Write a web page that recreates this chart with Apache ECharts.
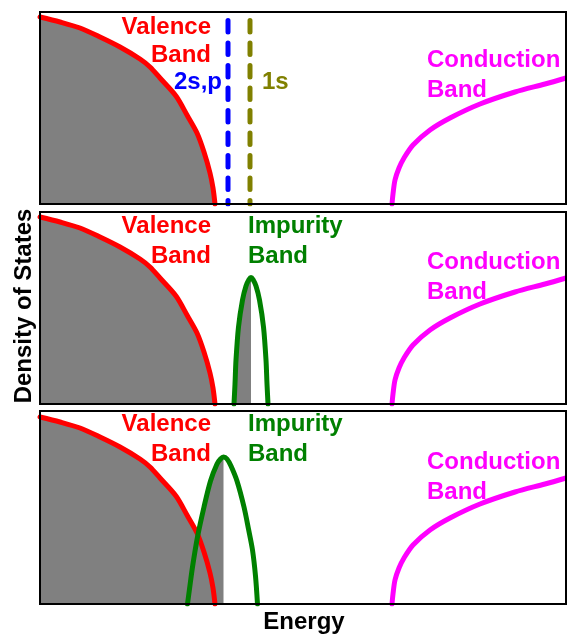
<!DOCTYPE html>
<html>
<head>
<meta charset="utf-8">
<script src="https://cdn.jsdelivr.net/npm/echarts@6/dist/echarts.min.js"></script>
<style>
html,body{margin:0;padding:0;background:#fff;}
#c{width:567px;height:635px;}
</style>
</head>
<body>
<div id="c"></div>
<script>
// ---- data (energy in arbitrary units, density of states in arbitrary units) ----
const valenceBand = [[0,187],[20,182],[40,176],[60,167],[80,157],[100,145],[110,137],[120,126],[136,108],[147,89],[157,71],[164,52],[170,31],[173,16],[175,0]];
const conductionBand = [[352,0],[353,10],[355,24],[359,36],[364,46],[373,59],[390,74],[410,86],[440,100],[475,112],[505,120],[526,126]];
const level2sp = [[188,183.5],[188,0]];
const level1s = [[210,183.5],[210,0]];
const impurityBandNarrow = [[194,0],[195,20],[196,44],[198.5,77],[202.5,104],[206,118],[209,124.5],[211,126.5],[213,124.5],[216,118],[219.5,104],[223.5,77],[226,44],[227,20],[228,0]];
const impurityBandWide = [[147.5,0],[149.5,15],[152.5,37],[157.5,67],[164,97],[170.5,123],[177,140],[180.5,145],[183.5,147],[187,145],[191,138],[197,123],[204,97],[208.5,75],[212.5,54],[215.5,28],[217.5,0]];

const labelsValence = ['Valence', 'Band'];
const labelsImpurity = ['Impurity', 'Band'];
const labelsConduction = ['Conduction', 'Band'];
const labels1 = ['2s,p', '1s'];
const xTitle = 'Energy';
const yTitle = 'Density of States';

// ---- layout ----
const panels = [
  {left:40, top:12, width:526, height:192},
  {left:40, top:212, width:526, height:192},
  {left:40, top:411, width:526, height:193}
];
const FONT = "bold 24px 'Liberation Sans', Arial, sans-serif";
const RED = '#ff0000', GREEN = '#008000', BLUE = '#0000ff', OLIVE = '#808000', MAG = '#ff00ff', GRAY = '#808080';

function leftHalf(d){
  let iMax = 0;
  d.forEach((p,i)=>{ if(p[1] > d[iMax][1]) iMax = i; });
  return d.slice(0, iMax+1);
}

const grids = panels.map(p => ({left:p.left, top:p.top, width:p.width, height:p.height, show:false, containLabel:false}));
const xAxes = panels.map((p,i) => ({type:'value', gridIndex:i, min:0, max:p.width, show:false}));
const yAxes = panels.map((p,i) => ({type:'value', gridIndex:i, min:0, max:p.height, show:false}));

function areaSeries(i, data, z){
  return {type:'line', xAxisIndex:i, yAxisIndex:i, data, smooth:0.3, symbol:'none', z,
    lineStyle:{width:0, opacity:0}, areaStyle:{color:GRAY, opacity:1}, silent:true};
}
function lineSeries(i, data, color, z, extra){
  return Object.assign({type:'line', xAxisIndex:i, yAxisIndex:i, data, smooth:0.3, symbol:'none', z,
    lineStyle:{width:5, color, cap:'round'}, silent:true}, extra||{});
}

const series = [];
// panel 1
series.push(areaSeries(0, valenceBand, 1));
series.push(lineSeries(0, valenceBand, RED, 3));
series.push(lineSeries(0, level2sp, BLUE, 3, {smooth:false, lineStyle:{width:5, color:BLUE, type:[11.5,11], cap:'round'}}));
series.push(lineSeries(0, level1s, OLIVE, 3, {smooth:false, lineStyle:{width:5, color:OLIVE, type:[11.5,11], cap:'round'}}));
series.push(lineSeries(0, conductionBand, MAG, 3));
// panel 2
series.push(areaSeries(1, valenceBand, 1));
series.push(areaSeries(1, leftHalf(impurityBandNarrow), 2));
series.push(lineSeries(1, valenceBand, RED, 3));
series.push(lineSeries(1, impurityBandNarrow, GREEN, 4));
series.push(lineSeries(1, conductionBand, MAG, 3));
// panel 3
series.push(areaSeries(2, valenceBand, 1));
series.push(areaSeries(2, leftHalf(impurityBandWide), 2));
series.push(lineSeries(2, valenceBand, RED, 3));
series.push(lineSeries(2, impurityBandWide, GREEN, 4));
series.push(lineSeries(2, conductionBand, MAG, 3));

function txt(x, y, text, color, align, extra){
  return Object.assign({type:'text', x, y, z:200, silent:true,
    style:{text, fill:color, font:FONT, textAlign:align, textVerticalAlign:'middle', align:align, verticalAlign:'middle'}}, extra||{});
}

const graphic = [];
panels.forEach(p => {
  graphic.push({type:'rect', z:150, silent:true, shape:{x:p.left, y:p.top, width:p.width, height:p.height},
    style:{fill:null, stroke:'#000', lineWidth:2}});
});
// panel 1 labels
graphic.push(txt(211, 27, labelsValence[0], RED, 'right'));
graphic.push(txt(211, 55, labelsValence[1], RED, 'right'));
graphic.push(txt(222, 82, labels1[0], BLUE, 'right'));
graphic.push(txt(262, 82, labels1[1], OLIVE, 'left'));
graphic.push(txt(427, 60, labelsConduction[0], MAG, 'left'));
graphic.push(txt(427, 90, labelsConduction[1], MAG, 'left'));
// panel 2 labels
graphic.push(txt(211, 226, labelsValence[0], RED, 'right'));
graphic.push(txt(211, 256, labelsValence[1], RED, 'right'));
graphic.push(txt(248, 226, labelsImpurity[0], GREEN, 'left'));
graphic.push(txt(248, 256, labelsImpurity[1], GREEN, 'left'));
graphic.push(txt(427, 262, labelsConduction[0], MAG, 'left'));
graphic.push(txt(427, 292, labelsConduction[1], MAG, 'left'));
// panel 3 labels
graphic.push(txt(211, 424, labelsValence[0], RED, 'right'));
graphic.push(txt(211, 454, labelsValence[1], RED, 'right'));
graphic.push(txt(248, 424, labelsImpurity[0], GREEN, 'left'));
graphic.push(txt(248, 454, labelsImpurity[1], GREEN, 'left'));
graphic.push(txt(427, 462, labelsConduction[0], MAG, 'left'));
graphic.push(txt(427, 492, labelsConduction[1], MAG, 'left'));
// axis titles
graphic.push(txt(304, 622, xTitle, '#000', 'center'));
graphic.push(txt(24, 306, yTitle, '#000', 'center', {rotation:Math.PI/2}));

const chart = echarts.init(document.getElementById('c'), null, {renderer:'canvas'});
chart.setOption({
  animation:false,
  backgroundColor:'#fff',
  grid:grids, xAxis:xAxes, yAxis:yAxes, series, graphic
});
</script>
</body>
</html>
